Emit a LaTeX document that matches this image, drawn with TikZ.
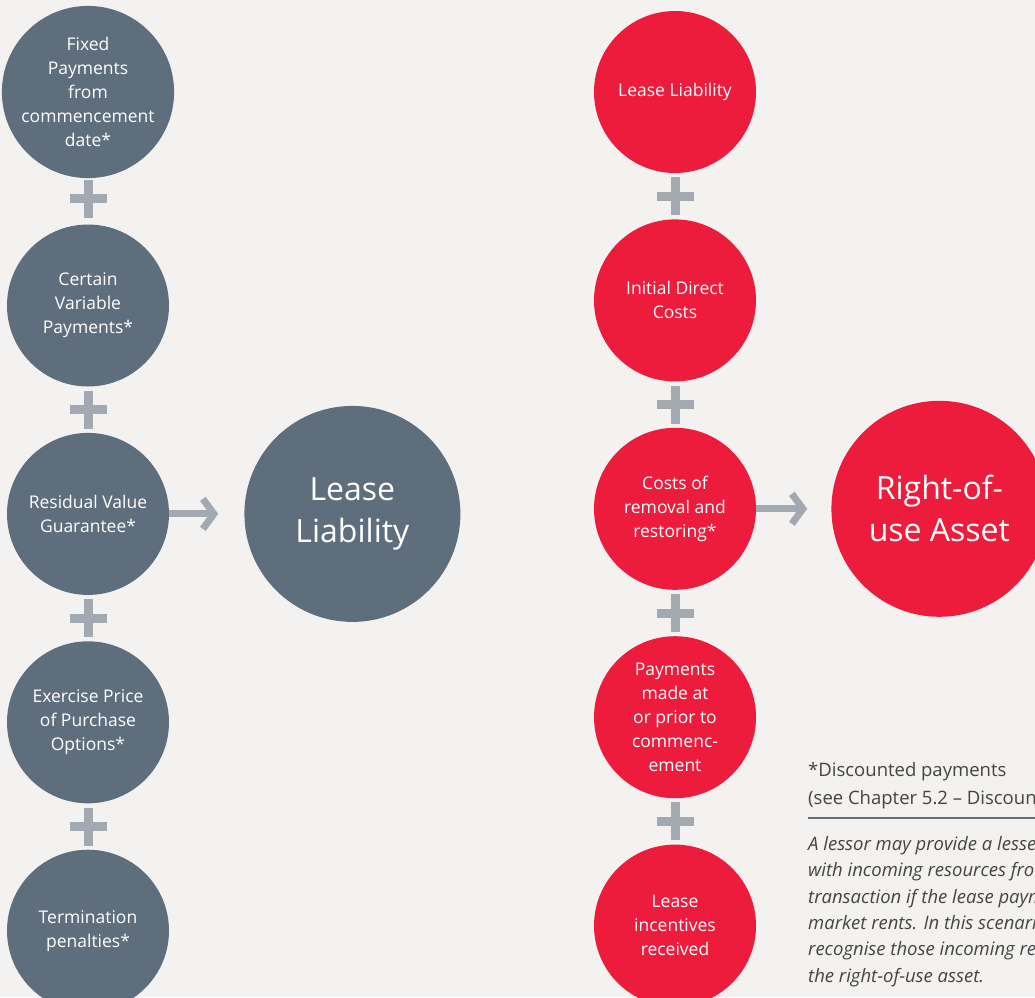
\documentclass[tikz,border=0pt]{standalone}
\usepackage{fontspec}
\setmainfont{Open Sans}
\usetikzlibrary{arrows.meta,positioning,calc}

\definecolor{slate}{HTML}{5E6E7C}
\definecolor{leasered}{HTML}{EE1C3C}
\definecolor{plusgray}{HTML}{A3A9B1}
\definecolor{paper}{HTML}{F3F2F0}
\definecolor{notegray}{HTML}{444444}

\tikzset{
  item/.style={circle, fill=#1, text=white, minimum size=162pt, inner sep=0pt,
    align=center, font=\fontsize{17.5}{24}\selectfont},
  total/.style={circle, fill=#1, text=white, minimum size=216pt, inner sep=0pt,
    align=center, font=\fontsize{32}{42}\selectfont},
  flow/.style={draw=plusgray, line width=7pt, -{Straight Barb[length=11pt,width=30pt]}},
  plusbar/.style={draw=plusgray, line width=9pt},
  plus/.pic={\draw[plusbar] (-18.5pt,0) -- (18.5pt,0);
    \draw[plusbar] (0,-19pt) -- (0,19pt);},
  note/.style={anchor=north west, inner sep=0pt, align=left, text=notegray,
    font=\fontsize{18.5}{28}\selectfont}
}

\begin{document}
\begin{tikzpicture}[x=1pt, y=-1pt]
    \useasboundingbox (0,0) rectangle (1035,997);
    \fill[paper] (0,0) rectangle (1035,997);

    \node[item=slate] (fixed) at (88,92) {Fixed\\Payments\\from\\commencement\\date*};
    \node[item=slate, below=46pt of fixed] (variable) {Certain\\Variable\\Payments*};
    \node[item=slate, below=46pt of variable] (residual) {Residual Value\\Guarantee*};
    \node[item=slate, below=46pt of residual] (exercise) {Exercise Price\\of Purchase\\Options*};
    \node[item=slate, below=46pt of exercise] (termination) {Termination\\penalties*};
    \node[total=slate, right=75pt of residual] (liability) {Lease\\Liability};

    \node[item=leasered] (initliab) at (675,92) {Lease Liability};
    \node[item=leasered, below=46pt of initliab] (direct) {Initial Direct\\Costs};
    \node[item=leasered, below=46pt of direct] (restoring) {Costs of\\removal and\\restoring*};
    \node[item=leasered, below=46pt of restoring] (prior) {Payments\\made at\\or prior to\\commenc-\\ement};
    \node[item=leasered, below=46pt of prior] (incentives) {Lease\\incentives\\received};
    \node[total=leasered, right=75pt of restoring] (asset) {Right-of-\\use Asset};

    \foreach \a/\b in {fixed/variable, variable/residual, residual/exercise, exercise/termination,
      initliab/direct, direct/restoring, restoring/prior, prior/incentives}
      \pic at ($(\a)!0.5!(\b)$) {plus};

    \draw[flow, shorten >=26pt] (residual) -- (liability);
    \draw[flow, shorten >=24pt] (restoring) -- (asset);

    \node[note] (discount) at (808,762) {*Discounted payments\\(see Chapter 5.2 -- Discounting)};
    \draw[slate, line width=1.2pt] (808,818) -- (1040,818);
    \node[note, font=\fontsize{18.5}{26.4}\selectfont\itshape] (lessor) at (808,836)
      {A lessor may provide a lessee\\with incoming resources from the\\transaction if the lease payments\\market rents. In this scenario\\recognise those incoming resources\\the right-of-use asset.};
\end{tikzpicture}
\end{document}
